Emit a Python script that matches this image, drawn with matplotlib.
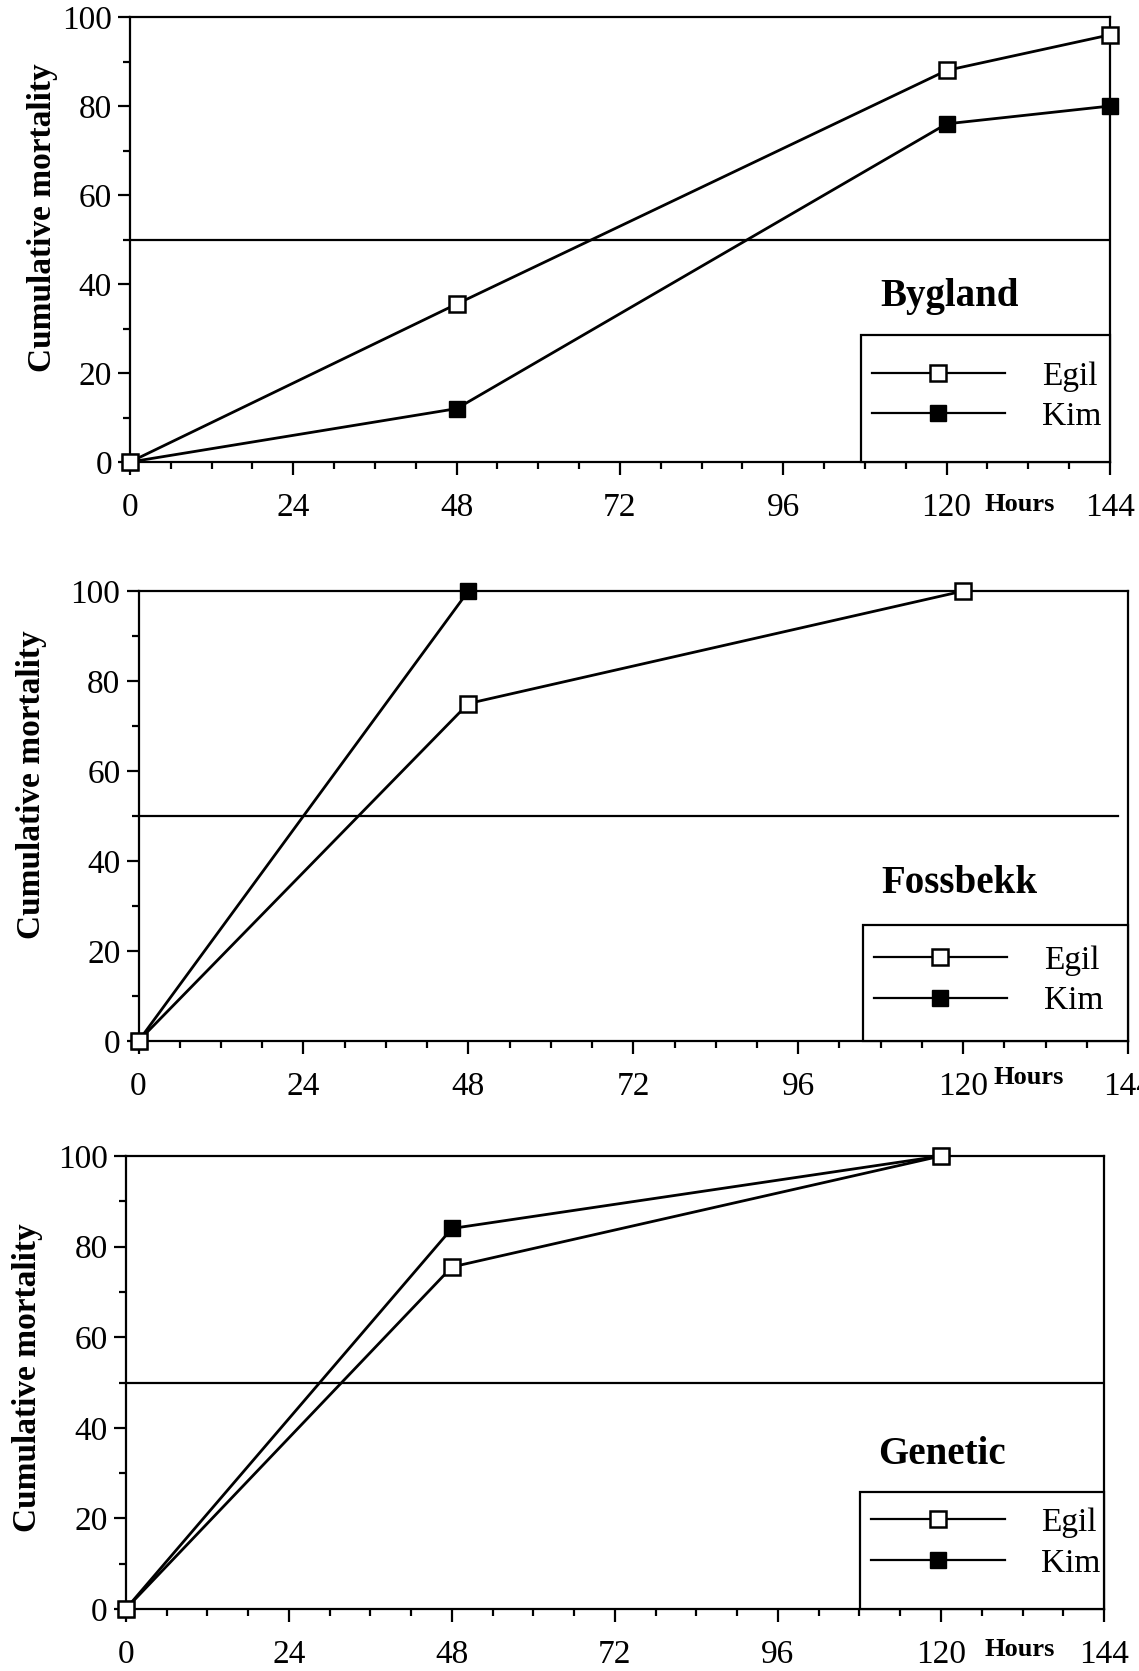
import numpy as np
import matplotlib
matplotlib.use("Agg")
from matplotlib import pyplot as plt
from matplotlib.ticker import MultipleLocator
from matplotlib.patches import Rectangle
from matplotlib.lines import Line2D

plt.rcParams['font.family'] = ['Liberation Serif', 'DejaVu Serif']

# data (hours vs cumulative mortality %)
panel_names = ["Bygland", "Fossbekk", "Genetic"]
series_labels = ["Egil", "Kim"]
x_ticks = [0, 24, 48, 72, 96, 120, 144]

bygland_hours = [0, 48, 120, 144]
bygland_egil = [0, 35.5, 88, 96]
bygland_kim = [0, 12, 76, 80]

fossbekk_egil_hours = [0, 48, 120]
fossbekk_egil = [0, 75, 100]
fossbekk_kim_hours = [0, 48]
fossbekk_kim = [0, 100]

genetic_hours = [0, 48, 120]
genetic_egil = [0, 75.5, 100]
genetic_kim = [0, 84, 100]

lc50_level = 50

egil_data = [(bygland_hours, bygland_egil),
             (fossbekk_egil_hours, fossbekk_egil),
             (genetic_hours, genetic_egil)]
kim_data = [(bygland_hours, bygland_kim),
            (fossbekk_kim_hours, fossbekk_kim),
            (genetic_hours, genetic_kim)]

fig = plt.figure(figsize=(11.39, 16.71), dpi=100)

# axes rectangles in figure fraction
axes_pos = [[0.1141, 0.7235, 0.8604, 0.2663],
            [0.1216, 0.3770, 0.8688, 0.2693],
            [0.1104, 0.0371, 0.8589, 0.2711]]
# legend box (left, top) in axes coords, title pos (data), ylabel pos (axes)
legend_box = [(0.746, 0.285), (0.732, 0.258), (0.751, 0.259)]
legend_drop = [0.058, 0.045, 0.035]
title_pos = [(120.5, 37.3), (119.4, 35.0), (120.2, 34.1)]
ylabel_pos = [(-0.073, 0.55), (-0.092, 0.57), (-0.085, 0.51)]
hours_pos = [(130.8, -9.6), (129.6, -8.0), (131.6, -8.9)]
hline_end = [1.0, 0.99, 1.0]

for k in range(3):
    ax = fig.add_axes(axes_pos[k])
    hx, hy = kim_data[k]
    ax.plot(hx, hy, color="k", lw=2.0, marker="s", ms=12,
            mfc="k", mec="k", clip_on=False, zorder=3)
    hx, hy = egil_data[k]
    ax.plot(hx, hy, color="k", lw=2.0, marker="s", ms=12,
            mfc="white", mec="k", mew=1.8, clip_on=False, zorder=4)
    ax.axhline(lc50_level, xmin=0, xmax=hline_end[k], color="k", lw=1.6)

    ax.set_xlim(0, 144)
    ax.set_ylim(0, 100)
    ax.set_xticks(x_ticks)
    ax.set_yticks([0, 20, 40, 60, 80, 100])
    ax.xaxis.set_minor_locator(MultipleLocator(6))
    ax.yaxis.set_minor_locator(MultipleLocator(10))
    ax.tick_params(which="major", direction="out", length=9, width=1.6,
                   labelsize=24)
    ax.tick_params(which="minor", direction="out", length=5, width=1.6)
    ax.tick_params(axis="x", which="major", pad=13)
    ax.tick_params(axis="y", which="major", pad=4)
    for sp in ax.spines.values():
        sp.set_linewidth(1.6)

    ax.set_ylabel("Cumulative mortality", fontsize=24, fontweight="bold")
    ax.yaxis.set_label_coords(*ylabel_pos[k])

    ax.text(title_pos[k][0], title_pos[k][1], panel_names[k],
            fontsize=28, fontweight="bold", ha="center", va="center")
    ax.text(hours_pos[k][0], hours_pos[k][1], "Hours", fontsize=19,
            fontweight="bold", ha="center", va="center", clip_on=False)

    # legend frame: top and left sides closing onto the axes corner
    bx, by = legend_box[k]
    ax.add_patch(Rectangle((bx, 0), 1 - bx, by, transform=ax.transAxes,
                           facecolor="white", edgecolor="k", lw=1.6,
                           zorder=5, clip_on=False))
    handles = [Line2D([], [], color="k", lw=1.6, marker="s", ms=12,
                      mfc="white", mec="k", mew=1.8),
               Line2D([], [], color="k", lw=1.6, marker="s", ms=12,
                      mfc="k", mec="k")]
    leg = ax.legend(handles, series_labels, loc="upper left",
                    bbox_to_anchor=(bx + 0.011, by - legend_drop[k]),
                    frameon=False, borderpad=0, borderaxespad=0,
                    handlelength=4.0, handletextpad=1.1, labelspacing=0.3,
                    fontsize=24, numpoints=1)
    leg.set_zorder(6)

fig.savefig("out.png", dpi=100)
